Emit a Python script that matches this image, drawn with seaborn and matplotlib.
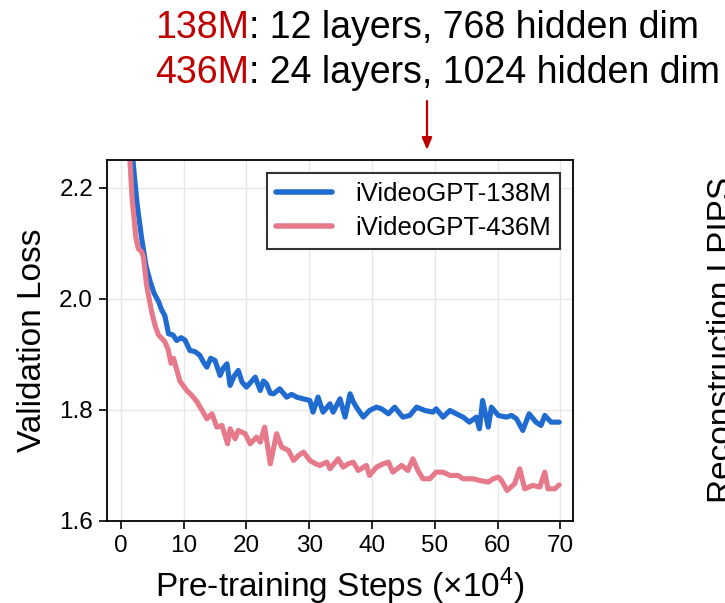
import matplotlib
matplotlib.use("Agg")
import matplotlib.pyplot as plt
import pandas as pd
import seaborn as sns

# ── data ──────────────────────────────────────────────────────────────────────
steps_138m = [1.0, 2.0, 2.6, 3.3, 4.0, 4.7, 5.3, 6.0, 6.5, 7.0,
              7.6, 8.3, 8.9, 9.6, 10.2, 11.0, 11.8, 12.6, 13.2, 13.7,
              14.3, 15.0, 15.8, 16.3, 16.9, 17.4, 18.0, 18.7, 19.3, 20.0,
              20.7, 21.4, 22.2, 22.7, 23.2, 23.8, 24.3, 25.3, 26.4, 27.2,
              28.0, 29.0, 30.1, 30.6, 31.4, 32.2, 33.3, 33.8, 34.9, 35.7,
              36.5, 37.0, 37.5, 38.6, 39.6, 40.7, 41.5, 42.6, 43.6, 44.9,
              46.0, 47.1, 48.4, 49.7, 50.2, 51.3, 52.4, 53.4, 54.5, 55.5,
              56.6, 57.1, 57.6, 58.5, 59.0, 60.1, 61.4, 62.2, 63.0, 64.0,
              65.0, 66.1, 66.9, 67.5, 68.5, 69.8]
loss_138m = [2.42, 2.24, 2.17, 2.11, 2.06, 2.03, 2.01, 1.995, 1.98, 1.97,
             1.937, 1.935, 1.925, 1.93, 1.926, 1.907, 1.905, 1.898, 1.885, 1.877,
             1.893, 1.889, 1.862, 1.875, 1.883, 1.844, 1.86, 1.871, 1.85, 1.841,
             1.85, 1.859, 1.835, 1.852, 1.847, 1.83, 1.829, 1.838, 1.823, 1.828,
             1.823, 1.820, 1.817, 1.796, 1.823, 1.796, 1.811, 1.796, 1.820, 1.787,
             1.829, 1.815, 1.805, 1.787, 1.799, 1.805, 1.802, 1.793, 1.805, 1.787,
             1.790, 1.805, 1.799, 1.796, 1.802, 1.787, 1.799, 1.793, 1.787, 1.778,
             1.787, 1.766, 1.817, 1.769, 1.805, 1.790, 1.787, 1.79, 1.784, 1.763,
             1.793, 1.778, 1.772, 1.790, 1.778, 1.778]

steps_436m = [1.0, 1.5, 1.8, 2.4, 2.8, 3.3, 3.6, 4.1, 4.9, 5.5,
              6.0, 7.0, 7.5, 8.0, 8.4, 9.4, 10.5, 11.3, 12.1, 12.9,
              13.7, 14.5, 15.3, 16.1, 17.0, 17.4, 18.2, 18.7, 19.8, 20.6,
              21.6, 22.2, 22.9, 23.8, 24.8, 25.6, 26.7, 27.5, 28.3, 29.1,
              30.1, 31.0, 31.7, 32.8, 33.3, 34.6, 35.4, 36.2, 37.0, 37.8,
              39.1, 39.6, 40.7, 41.8, 42.6, 43.3, 44.7, 45.7, 46.5, 47.3,
              48.1, 49.2, 50.2, 51.3, 52.4, 53.7, 54.5, 56.1, 57.1, 58.5,
              59.3, 60.1, 60.6, 61.5, 62.7, 63.5, 64.3, 65.6, 66.7, 67.5,
              68.0, 69.1, 69.8]
loss_436m = [2.33, 2.24, 2.18, 2.11, 2.09, 2.085, 2.075, 2.025, 1.977, 1.95,
             1.935, 1.923, 1.91, 1.884, 1.893, 1.852, 1.835, 1.826, 1.815, 1.80,
             1.784, 1.793, 1.769, 1.772, 1.739, 1.766, 1.748, 1.763, 1.757, 1.739,
             1.751, 1.742, 1.769, 1.703, 1.757, 1.733, 1.727, 1.709, 1.718, 1.724,
             1.709, 1.703, 1.700, 1.706, 1.694, 1.712, 1.697, 1.703, 1.706, 1.691,
             1.700, 1.682, 1.697, 1.703, 1.706, 1.688, 1.700, 1.691, 1.712, 1.691,
             1.676, 1.676, 1.688, 1.688, 1.682, 1.682, 1.676, 1.676, 1.673, 1.670,
             1.676, 1.679, 1.673, 1.655, 1.667, 1.694, 1.658, 1.664, 1.661, 1.688,
             1.658, 1.658, 1.665]

model_names = ["iVideoGPT-138M", "iVideoGPT-436M"]
model_colors = ["#1F6BD0", "#E67A8B"]
y_ticks = [1.6, 1.8, 2.0, 2.2]
x_ticks = [0, 10, 20, 30, 40, 50, 60, 70]

df = pd.concat([
    pd.DataFrame({"step": steps_138m, "loss": loss_138m, "model": model_names[0]}),
    pd.DataFrame({"step": steps_436m, "loss": loss_436m, "model": model_names[1]}),
], ignore_index=True)

# ── style ─────────────────────────────────────────────────────────────────────
sns.set_theme(style="whitegrid")
plt.rcParams["font.family"] = ["Liberation Sans", "DejaVu Sans"]
plt.rcParams["mathtext.fontset"] = "custom"
plt.rcParams["mathtext.rm"] = "Liberation Sans"
plt.rcParams["text.color"] = "black"
plt.rcParams["axes.labelcolor"] = "black"
plt.rcParams["xtick.color"] = "black"
plt.rcParams["ytick.color"] = "black"

fig = plt.figure(figsize=(7.25, 6.03), dpi=100)
ax = fig.add_axes([0.1476, 0.1360, 0.6428, 0.5987])

sns.lineplot(data=df, x="step", y="loss", hue="model", hue_order=model_names,
             palette=model_colors, estimator=None, linewidth=3.7, ax=ax)

ax.set_xlim(-2.2, 72)
ax.set_ylim(1.6, 2.25)
ax.set_xticks(x_ticks)
ax.set_yticks(y_ticks)
ax.set_yticklabels([f"{v:.1f}" for v in y_ticks])
ax.grid(True, color="#e8e8e8", linewidth=1.0)
for sp in ax.spines.values():
    sp.set_color("black")
    sp.set_linewidth(1.3)
ax.tick_params(axis="both", which="major", direction="out", length=6, width=1.2,
               color="black", labelcolor="black", labelsize=17.5,
               left=True, bottom=True, pad=4)
ax.set_xlabel(r"Pre-training Steps ($\mathregular{×10^4}$)", fontsize=24, labelpad=6)
ax.set_ylabel("Validation Loss", fontsize=24, labelpad=8)

leg = ax.legend(loc="upper right", fontsize=18.5, frameon=True, fancybox=False,
                framealpha=1, edgecolor="#333333", handlelength=2.2,
                borderaxespad=0.5, borderpad=0.35, handletextpad=0.9,
                labelspacing=0.4)
leg.get_frame().set_linewidth(1.5)
for line in leg.get_lines():
    line.set_linewidth(4)

# ── annotations above the axes ────────────────────────────────────────────────
red = "#C00000"
renderer = fig.canvas.get_renderer()
x0 = 155 / 725
for yb, head, rest in [(1 - 38 / 603, "138M", ": 12 layers, 768 hidden dim"),
                       (1 - 83 / 603, "436M", ": 24 layers, 1024 hidden dim")]:
    t = fig.text(x0, yb, head, color=red, fontsize=27, va="baseline", ha="left")
    bb = t.get_window_extent(renderer).transformed(fig.transFigure.inverted())
    fig.text(bb.x1, yb, rest, color="black", fontsize=27, va="baseline", ha="left")

fig.add_artist(plt.Annotation(
    "", xy=(427 / 725, 1 - 150 / 603), xytext=(427 / 725, 1 - 101 / 603),
    xycoords="figure fraction", textcoords="figure fraction",
    arrowprops=dict(arrowstyle="-|>,head_width=0.25,head_length=0.6",
                    color=red, lw=1.6, shrinkA=0, shrinkB=0)))

# neighbouring panel's label, cut by the right edge
fig.text(707 / 725, 1 - 340 / 603, "Reconstruction LPIPS", rotation=90,
         fontsize=24, ha="left", va="center")

fig.savefig("out.png", dpi=100)
